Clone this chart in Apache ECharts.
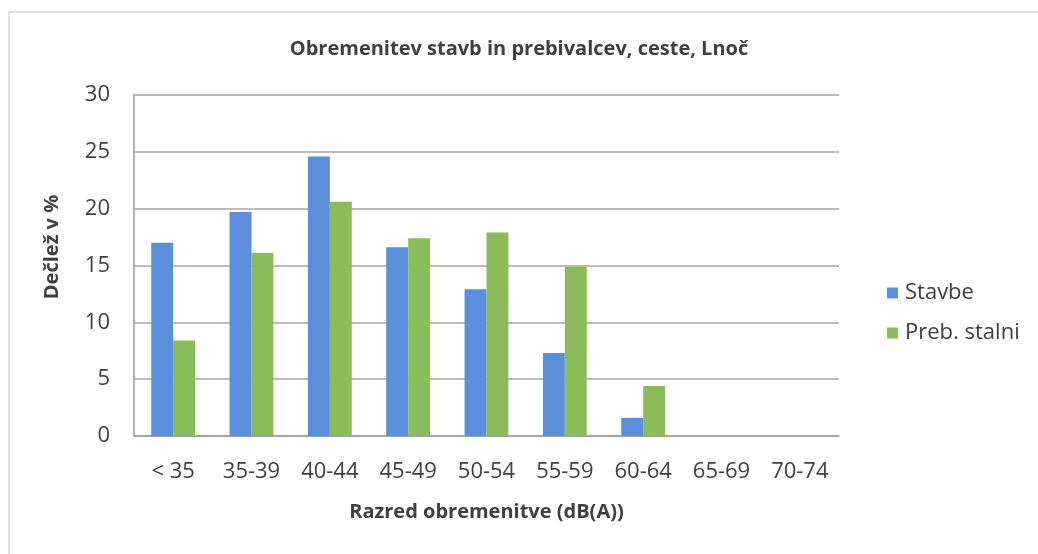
<!DOCTYPE html>
<html>
<head>
<meta charset="utf-8">
<script src="https://cdn.jsdelivr.net/npm/echarts@6/dist/echarts.min.js"></script>
<style>
  html, body { margin: 0; padding: 0; background: #fff; }
  #chart { width: 1038px; height: 554px; }
</style>
</head>
<body>
<div id="chart"></div>
<script>
// razredi obremenitve
const categories = ['< 35', '35-39', '40-44', '45-49', '50-54', '55-59', '60-64', '65-69', '70-74']
// delez v %
const stavbe = [17.0, 19.7, 24.6, 16.6, 12.9, 7.3, 1.6, 0, 0]
const prebStalni = [8.4, 16.1, 20.6, 17.4, 17.9, 14.9, 4.4, 0, 0]
const yTicks = [0, 5, 10, 15, 20, 25, 30]

const font = '"Open Sans", "DejaVu Sans", sans-serif'
const chart = echarts.init(document.getElementById('chart'))

const option = {
  animation: false,
  backgroundColor: '#fff',
  textStyle: { fontFamily: font },
  title: {
    text: 'Obremenitev stavb in prebivalcev, ceste, Lnoč',
    left: 'center',
    top: 34,
    textStyle: { fontSize: 20, fontWeight: 'bold', color: '#404040', fontFamily: font }
  },
  grid: {
    left: 134,
    right: 199,
    top: 95,
    bottom: 118,
    containLabel: false
  },
  legend: {
    orient: 'vertical',
    left: 882,
    top: 277,
    itemWidth: 11,
    itemHeight: 11,
    itemGap: 18,
    icon: 'rect',
    textStyle: { fontSize: 22, color: '#404040', fontFamily: font, padding: [0, 0, 0, 2] }
  },
  xAxis: {
    type: 'category',
    data: categories,
    axisLine: { lineStyle: { color: '#9a9a9a', width: 1.5 } },
    axisTick: { show: false },
    axisLabel: { fontSize: 22, color: '#404040', margin: 25 },
    name: 'Razred obremenitve (dB(A))',
    nameLocation: 'middle',
    nameGap: 66,
    nameTextStyle: { fontSize: 20, fontWeight: 'bold', color: '#404040' }
  },
  yAxis: {
    type: 'value',
    min: yTicks[0],
    max: yTicks[yTicks.length - 1],
    interval: 5,
    axisLine: { show: true, lineStyle: { color: '#9a9a9a', width: 1.5 } },
    axisTick: { show: false },
    axisLabel: { fontSize: 22, color: '#404040', margin: 24 },
    splitLine: { lineStyle: { color: '#a6a6a6', width: 1.5 } }
  },
  graphic: [
    {
      type: 'rect',
      shape: { x: 9, y: 12, width: 1100, height: 600 },
      style: { fill: 'none', stroke: '#d4d4d4', lineWidth: 1.5 },
      silent: true
    },
    {
      type: 'text',
      x: 52,
      y: 247,
      rotation: Math.PI / 2,
      style: {
        text: 'Dečlež v %',
        font: 'bold 20px ' + font,
        fill: '#404040',
        textAlign: 'center',
        textVerticalAlign: 'middle'
      }
    }
  ],
  series: [
    {
      name: 'Stavbe',
      type: 'bar',
      data: stavbe,
      barGap: '0%',
      barCategoryGap: '44%',
      itemStyle: { color: '#5b8fdc' }
    },
    {
      name: 'Preb. stalni',
      type: 'bar',
      data: prebStalni,
      barGap: '0%',
      barCategoryGap: '44%',
      itemStyle: { color: '#8cbc5a' }
    }
  ]
}

chart.setOption(option)
window.addEventListener('resize', function() {
  chart.resize()
})
</script>
</body>
</html>
